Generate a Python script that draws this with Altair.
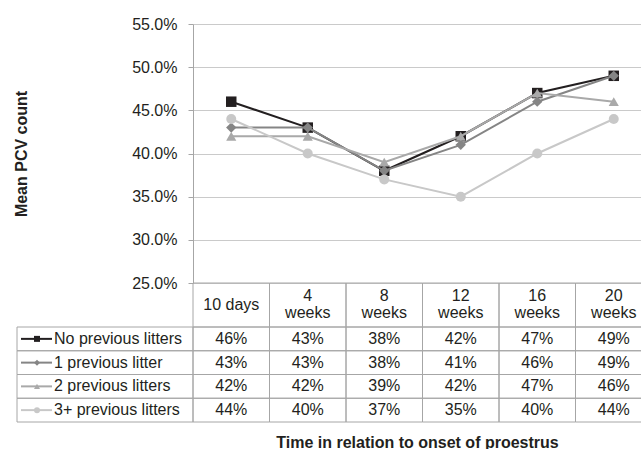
import altair as alt
import pandas as pd

# Sampling times (x categories) and their header text
times = ["10 days", "4 weeks", "8 weeks", "12 weeks", "16 weeks", "20 weeks"]
time_heads = ["10 days", "4\nweeks", "8\nweeks", "12\nweeks", "16\nweeks", "20\nweeks"]

# Parity groups
series = ["No previous litters", "1 previous litter", "2 previous litters", "3+ previous litters"]

# Mean PCV per group at each time point
no_prev = [0.46, 0.43, 0.38, 0.42, 0.47, 0.49]
one_prev = [0.43, 0.43, 0.38, 0.41, 0.46, 0.49]
two_prev = [0.42, 0.42, 0.39, 0.42, 0.47, 0.46]
three_plus = [0.44, 0.40, 0.37, 0.35, 0.40, 0.44]

y_ticks = [0.25, 0.30, 0.35, 0.40, 0.45, 0.50, 0.55]

colors = ["#231f20", "#858585", "#a9a9a9", "#c8c8c8"]
shapes = ["square", "diamond", "triangle-up", "circle"]
marker_sizes = [110, 100, 125, 100]

INK = "#231f20"
RULE = "#a6a6a6"
FONT = "Liberation Sans"

rows = []
for name, vals in zip(series, [no_prev, one_prev, two_prev, three_plus]):
    for t, v in zip(times, vals):
        rows.append({"series": name, "time": t, "value": v})
df = pd.DataFrame(rows)
heads = pd.DataFrame({"time": times, "head": time_heads})
heads["lines"] = heads["head"].str.count("\n") + 1
groups = pd.DataFrame({"series": series})

# Shared category scale: six equal columns, the last one running past the edge
X_SCALE = alt.Scale(type="band", domain=times, range=[0, 459], paddingInner=0, paddingOuter=0)
X_AXIS = alt.Axis(
    labels=False, ticks=False, domain=False, grid=False,
    title="Time in relation to onset of proestrus",
    titleFontSize=16, titleFontWeight="bold", titleColor=INK, titleFont=FONT,
    titleX=224, titleY=164, titleAlign="center", titleBaseline="alphabetic",
)
Y_AXIS = alt.Axis(
    values=y_ticks, format=".1%", grid=True, gridColor="#cacaca", gridWidth=1,
    domainColor=RULE, tickColor=RULE, tickSize=5, labelPadding=11,
    labelFontSize=16, labelColor=INK, labelFont=FONT,
    title="Mean PCV count", titleFontSize=16, titleFontWeight="bold",
    titleColor=INK, titleFont=FONT, titleX=-172, titleY=129.5,
    titleAngle=270, titleAlign="center", titleBaseline="middle",
)
COLOR = alt.Color("series:N", scale=alt.Scale(domain=series, range=colors), legend=None)
SHAPE = alt.Shape("series:N", scale=alt.Scale(domain=series, range=shapes), legend=None)
SIZE = alt.Size("series:N", scale=alt.Scale(domain=series, range=marker_sizes), legend=None)


def x_center():
    return alt.X("time:N", scale=X_SCALE, axis=X_AXIS, bandPosition=0.5)


def x_band():
    return alt.X("time:N", scale=X_SCALE, axis=X_AXIS)


ROW_SCALE = alt.Scale(type="band", domain=series, range=[303, 398], paddingInner=0, paddingOuter=0)


def y_row(center=True):
    if center:
        return alt.Y("series:N", scale=ROW_SCALE, axis=None, bandPosition=0.5)
    return alt.Y("series:N", scale=ROW_SCALE, axis=None)


y_val = alt.Y("value:Q", scale=alt.Scale(domain=[0.25, 0.55], zero=False, nice=False), axis=Y_AXIS)

# Line chart: one line + markers per group, first group drawn first
plot_layers = []
for name in series:
    sub = alt.Chart(df).transform_filter(alt.datum.series == name)
    plot_layers.append(sub.mark_line(strokeWidth=2).encode(x=x_center(), y=y_val, color=COLOR))
    plot_layers.append(
        sub.mark_point(filled=True, opacity=1).encode(
            x=x_center(), y=y_val, color=COLOR, shape=SHAPE, size=SIZE
        )
    )
plot = alt.layer(*plot_layers)

# Data table below the plot
cells = alt.Chart(df).mark_rect(fillOpacity=0, stroke=RULE, strokeWidth=1).encode(
    x=x_band(), y=y_row(center=False)
)
label_cells = alt.Chart(groups).mark_rect(fillOpacity=0, stroke=RULE, strokeWidth=1).encode(
    x=alt.value(-176), x2=alt.value(0), y=y_row(center=False)
)
values = alt.Chart(df).mark_text(fontSize=16, color=INK, font=FONT, baseline="middle").encode(
    x=x_center(), y=y_row(), text=alt.Text("value:Q", format=".0%")
)
key_lines = alt.Chart(groups).mark_rule(strokeWidth=2).encode(
    x=alt.value(-172), x2=alt.value(-141), y=y_row(), color=COLOR
)
key_marks = alt.Chart(groups).mark_point(filled=True, opacity=1, size=36).encode(
    x=alt.value(-156), y=y_row(), color=COLOR, shape=SHAPE
)
row_labels = alt.Chart(groups).mark_text(
    fontSize=16, color=INK, font=FONT, align="left", baseline="middle"
).encode(x=alt.value(-139), y=y_row(), text="series:N")
table = alt.layer(cells, label_cells, key_lines, key_marks, values, row_labels)

# Header row with the time points: one-line and two-line headers share a centre
head_cells = alt.Chart(heads).mark_rect(fillOpacity=0, stroke=RULE, strokeWidth=1).encode(
    x=x_band(), y=alt.value(259), y2=alt.value(303)
)
head_one = alt.Chart(heads).transform_filter(alt.datum.lines == 1).mark_text(
    fontSize=16, color=INK, font=FONT, baseline="middle"
).encode(x=x_center(), y=alt.value(281), text="head:N")
head_two = alt.Chart(heads).transform_filter(alt.datum.lines == 2).mark_text(
    fontSize=16, color=INK, font=FONT, lineBreak="\n", lineHeight=17, baseline="middle"
).encode(x=x_center(), y=alt.value(272), text="head:N")
header = alt.layer(head_cells, head_one, head_two)

chart = (
    alt.layer(plot, table, header)
    .resolve_scale(y="independent", size="independent")
    .properties(
        width=448,
        height=259,
        padding={"left": 193, "top": 24, "right": 0, "bottom": 166},
        autosize=alt.AutoSizeParams(type="none"),
        background="white",
    )
    .configure(font=FONT)
    .configure_view(stroke=None)
)

chart.save("out.html", embed_options={"renderer": "svg", "actions": False})
